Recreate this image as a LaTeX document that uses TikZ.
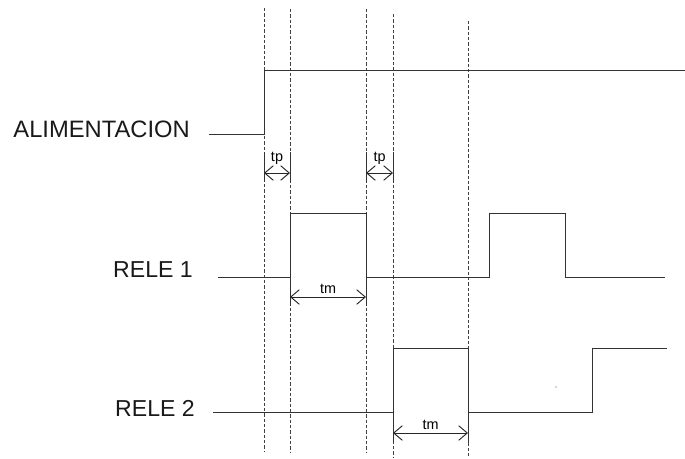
\documentclass[tikz,border=0pt]{standalone}
\usepackage{fontspec}
\setmainfont{Liberation Sans}
\usepackage{tikz}
\usetikzlibrary{calc}
\usetikzlibrary{arrows.meta}
\newcommand{\guide}[3]{\draw[guideline] ( #1 , #2 ) -- ( #1 , #3 );}
\newcommand{\dimarr}[5]{\draw[dimtick] ( #1 , #3 - 21 ) -- ( #1 , #3 + 9 ); \draw[dimtick] ( #2 , #3 - 21 ) -- ( #2 , #3 + 9 ); \draw[dimline] ( #1 , #3 ) -- ( #2 , #3 ) node[dimlabel, pos=0.5, yshift=#5] {#4};}

\tikzset{
  signal/.style={draw=black!80, line width=0.7pt},
  guideline/.style={draw=black!75, line width=0.5pt, dash pattern=on 2.6pt off 1.4pt},
  dimtick/.style={draw=black!80, line width=0.6pt},
  dimline/.style={draw=black!85, line width=0.7pt, {Straight Barb[length=6.5pt,width=11pt]}-{Straight Barb[length=6.5pt,width=11pt]}},
  dimlabel/.style={anchor=base, inner sep=0pt, font=\fontsize{10.8}{12}\selectfont},
  siglabel/.style={anchor=base east, inner sep=0pt, font=\fontsize{17.3}{20}\selectfont, text=black!90}
}

\begin{document}
\begin{tikzpicture}[x=0.75pt, y=-0.75pt]
        \useasboundingbox (0,0) rectangle (685,458);
        % guide lines
        \guide{264}{8}{451}
        \guide{290}{9}{452}
        \guide{366}{9}{452}
        \guide{393}{14}{457}
        \guide{468}{21}{457}
        % alimentacion
        \node[siglabel, font=\fontsize{17.8}{20}\selectfont] (alim) at (190,137) {ALIMENTACION};
        \draw[signal] (209,134) -- (264,134) -- (264,70) -- (685,70);
        \dimarr{264}{290}{173}{tp}{9pt}
        \dimarr{366}{393}{173}{tp}{9pt}
        % rele 1
        \node[siglabel] (rele1) at (193,277) {RELE 1};
        \draw[signal] (218,277) -- (290,277) -- (290,213) -- (366,213) -- (366,277)
          -- (489,277) -- (489,213) -- (565,213) -- (565,277) -- (665,277);
        \dimarr{290}{366}{297}{tm}{3pt}
        % rele 2
        \node[siglabel] (rele2) at (195,416) {RELE 2};
        \draw[signal] (213,412) -- (393,412) -- (393,348) -- (468,348) -- (468,412)
          -- (592,412) -- (592,348) -- (667,348);
        \dimarr{393}{468}{433}{tm}{3pt}
        \fill[black!70] (556,387) circle (0.6);
    \end{tikzpicture}
\end{document}
